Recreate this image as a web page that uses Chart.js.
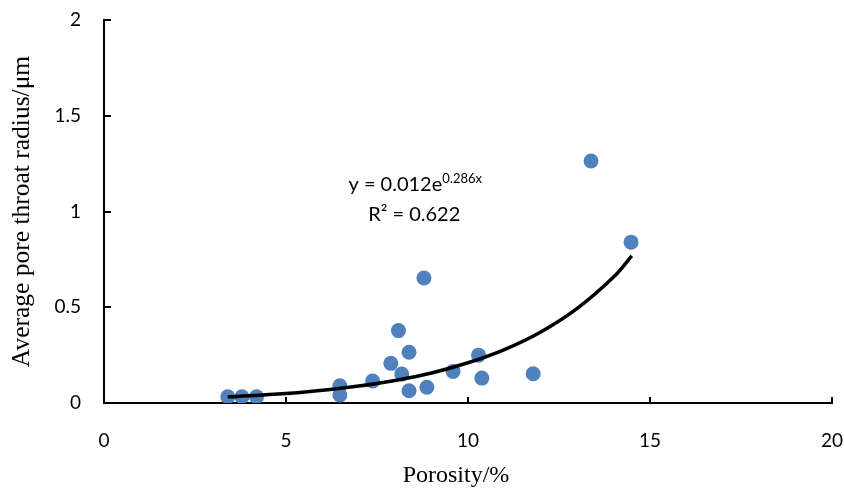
<!DOCTYPE html>
<html>
<head>
<meta charset="utf-8">
<script src="https://cdn.jsdelivr.net/npm/chart.js@4/dist/chart.umd.min.js"></script>
<style>
  html, body { margin: 0; padding: 0; background: #ffffff; }
  #wrap { width: 844px; height: 490px; position: relative; }
</style>
</head>
<body>
<div id="wrap"><canvas id="c" width="844" height="490"></canvas></div>
<script>
// ---- data ----
const porosity = [3.40, 3.79, 4.19, 6.48, 6.48, 7.38, 7.88, 8.09, 8.18, 8.38, 8.38, 8.79, 8.87, 9.59, 10.29, 10.38, 11.79, 13.38, 14.48];
const radius   = [0.033, 0.033, 0.033, 0.090, 0.042, 0.115, 0.207, 0.378, 0.151, 0.265, 0.064, 0.653, 0.082, 0.165, 0.250, 0.130, 0.153, 1.264, 0.840];
const trendX   = [3.4, 5, 6, 7, 8, 9, 10, 11, 12, 13, 14, 14.5];
const trendY   = [0.032, 0.050, 0.067, 0.089, 0.118, 0.157, 0.210, 0.279, 0.371, 0.494, 0.658, 0.768];
const xTicks   = [0, 5, 10, 15, 20];
const yTicks   = [0, 0.5, 1, 1.5, 2];
const xTickLabels = ['0', '5', '10', '15', '20'];
const yTickLabels = ['0', '0.5', '1', '1.5', '2'];
const xTitle   = 'Porosity/%    ';
const yTitle   = 'Average pore throat radius/\u03bcm';
const eqMain   = 'y = 0.012e';
const eqSup    = '0.286x';
const eqR2     = 'R\u00b2 = 0.622';

const scatterPts = porosity.map((x, i) => ({ x: x, y: radius[i] }));
const trendPts = trendX.map((x, i) => ({ x: x, y: trendY[i] }));

const tickFont = '"Lato", "Open Sans", sans-serif';

// inward tick marks
const innerTicks = {
  id: 'innerTicks',
  afterDraw(chart) {
    const ctx = chart.ctx;
    const xs = chart.scales.x, ys = chart.scales.y;
    const a = chart.chartArea;
    ctx.save();
    ctx.strokeStyle = '#000';
    ctx.lineWidth = 2;
    ctx.beginPath();
    xTicks.forEach(v => {
      const px = Math.round(xs.getPixelForValue(v));
      if (v === xTicks[0]) return;
      ctx.moveTo(px, a.bottom);
      ctx.lineTo(px, a.bottom - 6);
    });
    yTicks.forEach(v => {
      const py = Math.round(ys.getPixelForValue(v));
      if (v === yTicks[0]) return;
      ctx.moveTo(a.left, py);
      ctx.lineTo(a.left + 7, py);
    });
    ctx.stroke();
    ctx.restore();
  }
};

// trendline equation label
const eqLabel = {
  id: 'eqLabel',
  afterDatasetsDraw(chart, args, opts) {
    const ctx = chart.ctx;
    const xs = chart.scales.x, ys = chart.scales.y;
    const cx = xs.getPixelForValue(opts.x);
    const y1 = ys.getPixelForValue(opts.y1);
    const y2 = ys.getPixelForValue(opts.y2);
    ctx.save();
    ctx.fillStyle = '#000';
    ctx.textBaseline = 'alphabetic';
    ctx.textAlign = 'left';
    ctx.font = '20px ' + tickFont;
    const w1 = ctx.measureText(eqMain).width;
    ctx.font = '13px ' + tickFont;
    const w2 = ctx.measureText(eqSup).width;
    const start = cx - (w1 + w2) / 2;
    ctx.font = '20px ' + tickFont;
    ctx.fillText(eqMain, start, y1);
    ctx.font = '13px ' + tickFont;
    ctx.fillText(eqSup, start + w1, y1 - 8);
    ctx.font = '20px ' + tickFont;
    ctx.textAlign = 'center';
    ctx.fillText(eqR2, cx - 1, y2);
    ctx.restore();
  }
};

new Chart(document.getElementById('c'), {
  type: 'scatter',
  data: {
    datasets: [
      {
        type: 'line',
        label: 'trend',
        data: trendPts,
        borderColor: '#000000',
        borderWidth: 3.5,
        pointRadius: 0,
        tension: 0.4,
        fill: false,
        order: 0
      },
      {
        label: 'data',
        data: scatterPts,
        backgroundColor: '#4f81bd',
        borderColor: '#4f81bd',
        borderWidth: 0,
        pointRadius: 7.5,
        order: 1
      }
    ]
  },
  options: {
    responsive: false,
    animation: false,
    events: [],
    layout: { padding: { left: 0, right: 12, top: 20, bottom: 0 } },
    plugins: {
      legend: { display: false },
      tooltip: { enabled: false },
      eqLabel: { x: 8.55, y1: 1.109, y2: 0.948 }
    },
    scales: {
      x: {
        type: 'linear',
        min: 0, max: 20,
        afterBuildTicks: s => { s.ticks = xTicks.map(v => ({ value: v })); },
        afterFit: s => { s.height = 87; s.paddingLeft = 0; s.paddingRight = 0; },
        grid: { display: true, drawOnChartArea: false, drawTicks: false },
        border: { display: true, color: '#000', width: 2 },
        ticks: {
          color: '#000',
          font: { family: tickFont, size: 19 },
          padding: 26,
          maxRotation: 0,
          callback: (v) => xTickLabels[xTicks.indexOf(v)]
        },
        title: {
          display: true,
          text: xTitle,
          color: '#000',
          font: { family: '"Liberation Serif", "Times New Roman", serif', size: 24 },
          padding: { top: 0, bottom: 0 }
        }
      },
      y: {
        type: 'linear',
        min: 0, max: 2,
        afterBuildTicks: s => { s.ticks = yTicks.map(v => ({ value: v })); },
        afterFit: s => { s.width = 104; s.paddingTop = 0; s.paddingBottom = 0; },
        grid: { display: true, drawOnChartArea: false, drawTicks: false },
        border: { display: true, color: '#000', width: 2 },
        ticks: {
          color: '#000',
          font: { family: tickFont, size: 19 },
          padding: 23,
          callback: (v) => yTickLabels[yTicks.indexOf(v)]
        },
        title: {
          display: true,
          text: yTitle,
          color: '#000',
          font: { family: '"Liberation Serif", "Times New Roman", serif', size: 25.5 },
          padding: { top: 7, bottom: 0 }
        }
      }
    }
  },
  plugins: [innerTicks, eqLabel]
});
</script>
</body>
</html>
